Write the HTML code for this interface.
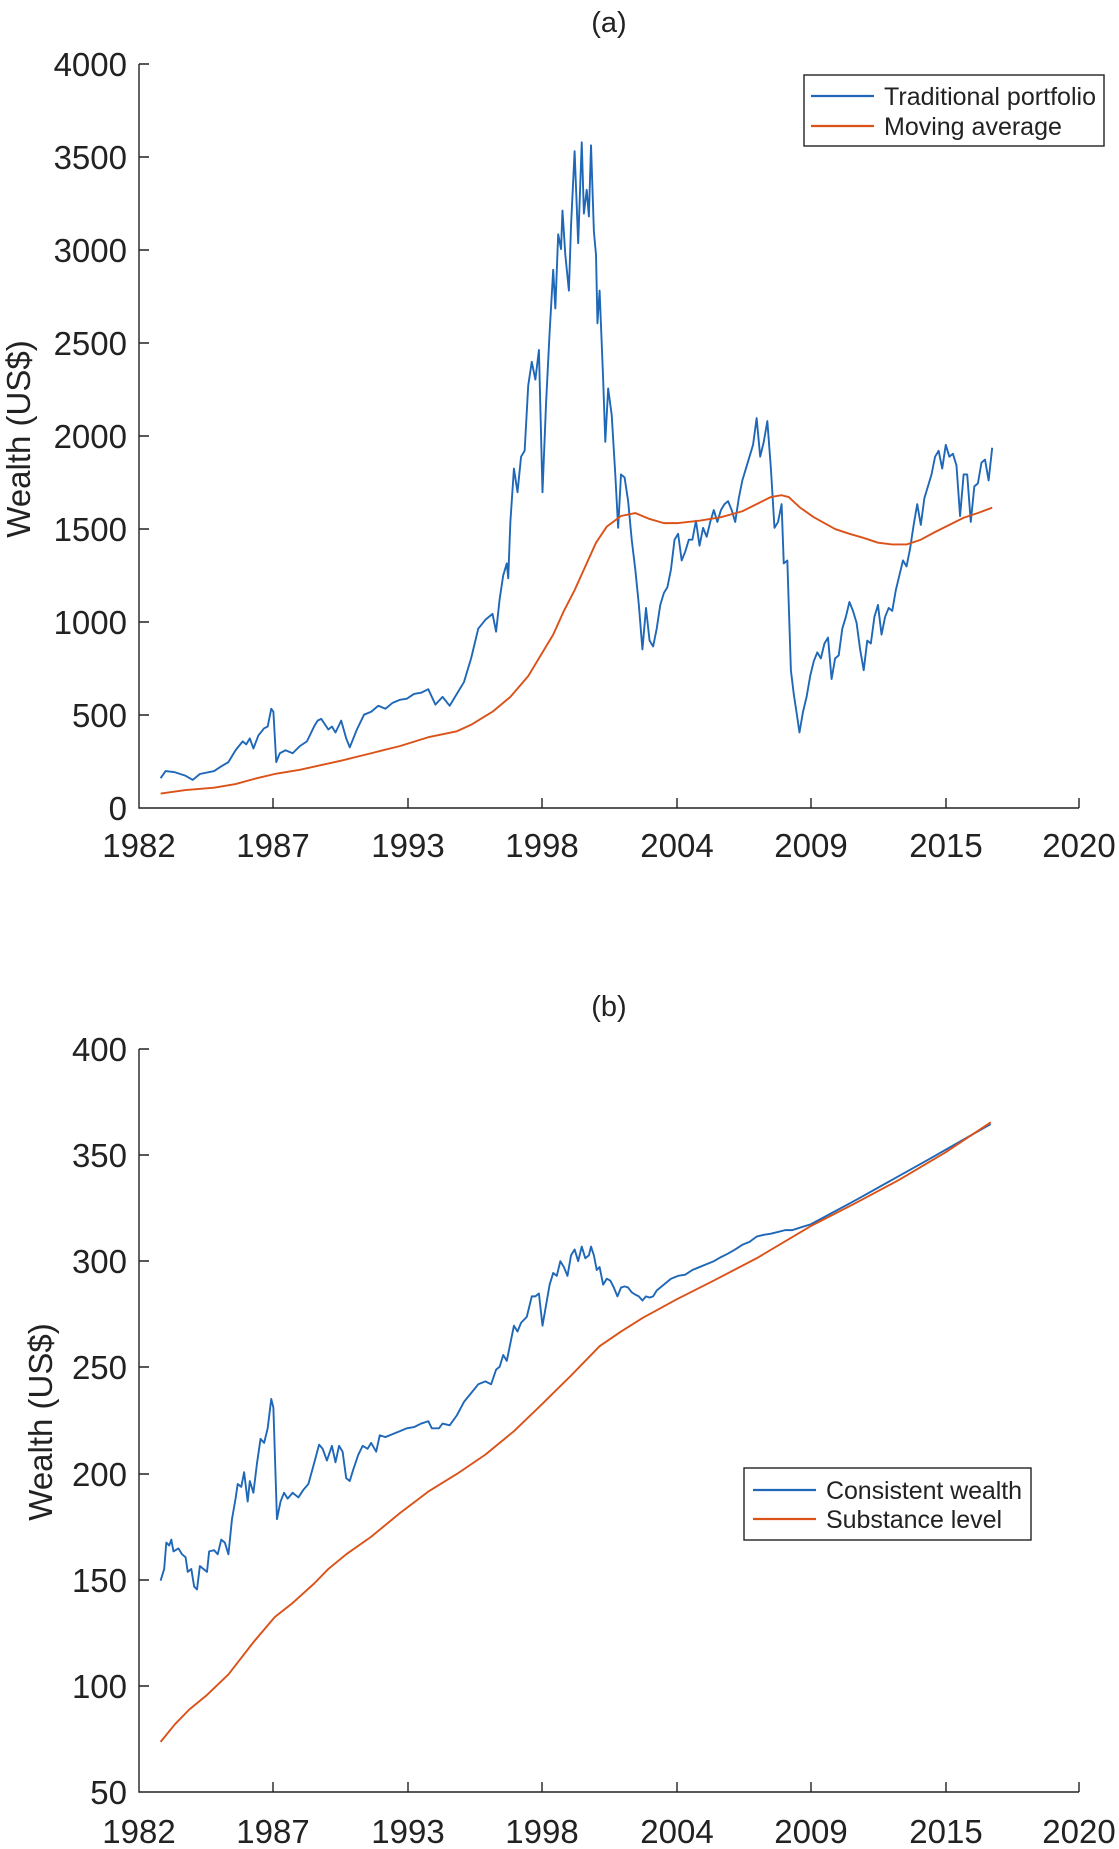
<!DOCTYPE html>
<html><head><meta charset="utf-8"><style>
html,body{margin:0;padding:0;background:#fff;}
svg{display:block;font-family:"Liberation Sans",Arial,sans-serif;}
.l{fill:none;stroke-width:1.9;vector-effect:non-scaling-stroke;stroke-linejoin:round;}
.b{stroke:#1f68b8;}
.o{stroke:#db5219;}
.ax{stroke:#222;stroke-width:1.4;fill:none;}
.t{font-size:33px;fill:#222;}
.lg{font-size:25px;fill:#222;}
</style></head><body>
<svg width="1119" height="1849" viewBox="0 0 1119 1849" xmlns="http://www.w3.org/2000/svg">
<!-- Panel (a) -->
<text class="t" x="609" y="32" text-anchor="middle" style="font-size:29px">(a)</text>
<path class="ax" d="M139,64 V808 H1079"/>
<g class="ax">
<path d="M139,64h10M139,157h10M139,250h10M139,343h10M139,436h10M139,529h10M139,622h10M139,715h10"/>
<path d="M273,808v-10M408,808v-10M542,808v-10M677,808v-10M811,808v-10M946,808v-10M1079,808v-10"/>
</g>
<g class="t" text-anchor="end">
<text x="127" y="76">4000</text><text x="127" y="169">3500</text><text x="127" y="262">3000</text><text x="127" y="355">2500</text><text x="127" y="448">2000</text><text x="127" y="541">1500</text><text x="127" y="634">1000</text><text x="127" y="727">500</text><text x="127" y="820">0</text>
</g>
<g class="t" text-anchor="middle">
<text x="139" y="857">1982</text><text x="273" y="857">1987</text><text x="408" y="857">1993</text><text x="542" y="857">1998</text><text x="677" y="857">2004</text><text x="811" y="857">2009</text><text x="946" y="857">2015</text><text x="1079" y="857">2020</text>
</g>
<text class="t" transform="translate(30,439) rotate(-90)" text-anchor="middle">Wealth (US$)</text>
<g transform="scale(0.7138,0.5931)">
<polyline class="l b" points="225,1312 232,1300 245,1302 260,1308 270,1315 280,1305 300,1300 310,1292 320,1285 330,1265 340,1250 345,1255 350,1245 355,1262 362,1240 370,1228 375,1225 380,1195 383,1200 387,1285 392,1270 400,1265 410,1270 420,1258 430,1250 440,1225 445,1215 450,1212 460,1230 465,1225 470,1235 478,1215 485,1245 490,1260 500,1230 510,1205 520,1200 530,1190 540,1195 550,1185 560,1180 570,1178 580,1170 590,1168 600,1162 610,1188 620,1175 630,1190 640,1170 650,1150 660,1110 670,1060 680,1045 690,1035 695,1065 700,1010 705,970 710,950 712,975 715,880 720,790 725,830 730,770 735,760 740,650 745,610 750,640 755,590 760,830 765,680 770,560 775,455 778,520 782,395 786,420 788,355 792,430 797,490 800,380 805,255 810,410 815,240 818,360 822,320 825,365 828,245 832,390 835,430 837,545 840,490 845,640 848,745 852,655 857,700 862,800 866,890 870,800 875,805 880,845 885,910 890,960 895,1020 900,1095 905,1025 910,1080 915,1090 920,1060 925,1020 930,1000 935,990 940,960 945,910 950,900 955,945 960,930 965,910 970,910 975,878 980,920 985,890 990,905 995,880 1000,860 1005,880 1010,860 1015,850 1020,845 1025,860 1030,880 1035,840 1040,810 1045,790 1050,770 1055,750 1060,705 1065,770 1070,745 1075,710 1080,790 1085,890 1090,880 1095,850 1098,950 1103,945 1108,1130 1112,1170 1117,1210 1120,1235 1125,1200 1130,1175 1135,1140 1140,1115 1145,1100 1150,1110 1155,1085 1160,1075 1165,1145 1170,1110 1175,1105 1180,1060 1185,1040 1190,1015 1195,1030 1200,1050 1205,1095 1210,1130 1215,1080 1220,1085 1225,1040 1230,1020 1235,1070 1240,1040 1245,1025 1250,1030 1255,995 1260,970 1265,945 1270,955 1275,925 1280,885 1285,850 1290,885 1295,840 1300,820 1305,800 1310,770 1315,760 1320,790 1325,750 1330,770 1335,765 1340,785 1345,870 1350,800 1355,800 1360,880 1365,820 1370,815 1375,780 1380,775 1385,810 1390,755"/>
<polyline class="l o" points="225,1338 260,1332 300,1328 330,1322 360,1312 385,1305 420,1298 450,1290 480,1282 520,1270 560,1258 600,1243 640,1233 660,1222 690,1200 715,1175 740,1140 760,1100 775,1070 790,1030 805,995 820,955 835,915 850,888 870,870 890,865 910,875 930,882 950,882 980,878 1010,872 1040,862 1060,850 1080,838 1095,835 1105,838 1120,855 1140,872 1170,892 1190,900 1210,907 1230,915 1250,918 1270,918 1290,910 1310,897 1330,885 1350,873 1370,865 1390,856"/>
</g>
<rect x="804" y="75" width="300" height="71" fill="#fff" stroke="#222" stroke-width="1.4"/>
<line x1="811" y1="96" x2="874" y2="96" class="b" stroke-width="2.2"/>
<line x1="811" y1="126" x2="874" y2="126" class="o" stroke-width="2.2"/>
<text class="lg" x="884" y="105" textLength="212">Traditional portfolio</text>
<text class="lg" x="884" y="135">Moving average</text>

<!-- Panel (b) -->
<text class="t" x="609" y="1016" text-anchor="middle" style="font-size:29px">(b)</text>
<path class="ax" d="M139,1049 V1792 H1079"/>
<g class="ax">
<path d="M139,1049h10M139,1155h10M139,1261h10M139,1367h10M139,1474h10M139,1580h10M139,1686h10"/>
<path d="M273,1792v-10M408,1792v-10M542,1792v-10M677,1792v-10M811,1792v-10M946,1792v-10M1079,1792v-10"/>
</g>
<g class="t" text-anchor="end">
<text x="127" y="1061">400</text><text x="127" y="1167">350</text><text x="127" y="1273">300</text><text x="127" y="1379">250</text><text x="127" y="1486">200</text><text x="127" y="1592">150</text><text x="127" y="1698">100</text><text x="127" y="1804">50</text>
</g>
<g class="t" text-anchor="middle">
<text x="139" y="1843">1982</text><text x="273" y="1843">1987</text><text x="408" y="1843">1993</text><text x="542" y="1843">1998</text><text x="677" y="1843">2004</text><text x="811" y="1843">2009</text><text x="946" y="1843">2015</text><text x="1079" y="1843">2020</text>
</g>
<text class="t" transform="translate(52,1422) rotate(-90)" text-anchor="middle">Wealth (US$)</text>
<g transform="translate(0,930) scale(0.7138,0.5862)">
<polyline class="l b" points="225,1110 230,1090 233,1045 237,1050 240,1040 243,1060 250,1055 255,1065 260,1070 263,1095 268,1090 272,1120 276,1125 280,1085 285,1090 290,1095 293,1060 300,1058 305,1065 310,1040 315,1045 320,1065 325,1005 330,970 333,945 338,950 342,925 347,975 350,940 355,960 360,910 365,868 370,875 375,850 380,800 383,815 388,1005 393,975 398,960 403,970 410,960 418,968 425,955 432,945 440,910 447,878 452,885 458,905 465,880 470,908 475,880 480,890 485,935 490,940 495,920 502,895 508,880 515,885 520,875 527,890 532,862 540,865 550,860 560,855 570,850 580,848 590,842 600,838 605,850 615,850 620,842 630,845 640,828 650,805 660,790 670,775 680,770 688,775 695,750 700,745 705,725 710,735 715,705 720,675 725,685 730,670 738,660 745,625 750,625 755,620 760,675 765,640 770,605 775,585 780,590 785,565 790,575 795,590 800,555 805,545 810,565 815,540 820,560 825,555 828,540 832,555 836,580 840,575 845,605 850,595 855,598 860,610 865,625 870,610 875,608 880,610 885,618 890,622 895,625 900,632 905,625 910,627 915,625 920,615 930,605 940,595 950,590 960,588 970,580 980,575 990,570 1000,565 1010,558 1020,552 1030,545 1040,537 1050,532 1060,523 1070,520 1080,518 1090,515 1100,512 1110,512 1120,508 1136,502 1200,460 1300,392 1388,331"/>
<polyline class="l o" points="225,1385 245,1355 265,1330 290,1305 320,1270 355,1215 385,1172 410,1148 440,1115 460,1090 485,1065 520,1035 560,995 600,958 640,928 680,895 720,855 760,808 800,760 840,710 870,685 900,662 948,630 1000,598 1060,560 1136,505 1200,465 1260,426 1325,379 1388,328"/>
</g>
<rect x="744" y="1468" width="287" height="72" fill="#fff" stroke="#222" stroke-width="1.4"/>
<line x1="753" y1="1490" x2="816" y2="1490" class="b" stroke-width="2.2"/>
<line x1="753" y1="1519" x2="816" y2="1519" class="o" stroke-width="2.2"/>
<text class="lg" x="826" y="1499" textLength="196">Consistent wealth</text>
<text class="lg" x="826" y="1528" textLength="176">Substance level</text>
</svg>
</body></html>
